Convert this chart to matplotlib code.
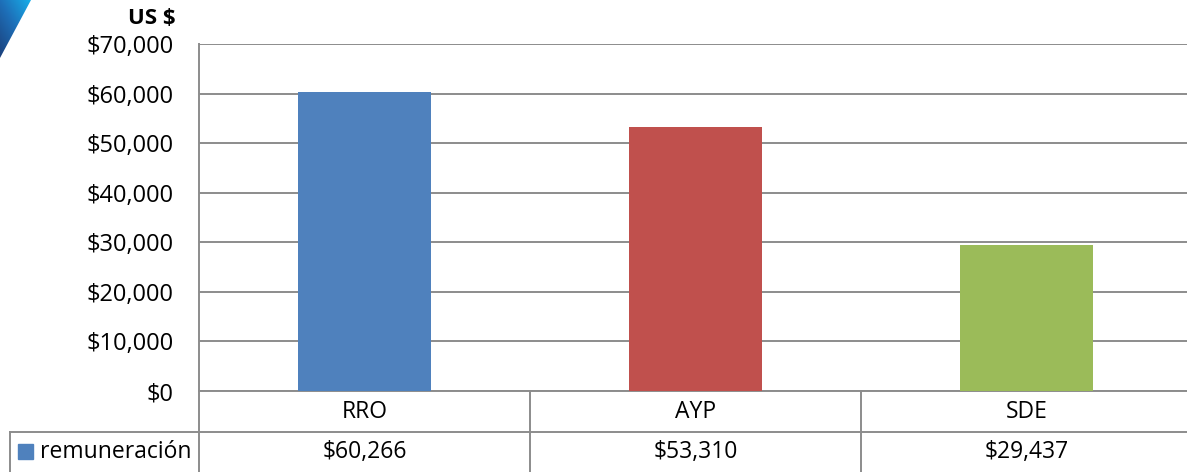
import matplotlib
matplotlib.use("Agg")
import matplotlib.pyplot as plt
import matplotlib.transforms as mtransforms
from matplotlib.patches import Polygon
import numpy as np

# --------------- 数据 ---------------
categories = ["RRO", "AYP", "SDE"]
remuneracion = [60266, 53310, 29437]
table_labels = ["$60,266", "$53,310", "$29,437"]
series_name = "remuneración"
yticks = [0, 10000, 20000, 30000, 40000, 50000, 60000, 70000]
bar_colors = ["#4F81BD", "#C0504D", "#9BBB59"]

W, H = 1187, 472
GRID = "#8C8C8C"
FONT = ["Open Sans", "DejaVu Sans"]
FS = 16.5
plt.rcParams["font.family"] = FONT

fig = plt.figure(figsize=(W / 100, H / 100), dpi=100)


def fx(px):
    return px / W


def fy(py):
    return 1 - py / H


# 主坐标区
left, right, top, bottom = 199, 1192, 44, 391
ax = fig.add_axes([fx(left), fy(bottom), fx(right - left), fy(top) - fy(bottom)])
x = np.arange(len(categories))
ax.bar(x, remuneracion, width=0.4, color=bar_colors, zorder=3)
ax.set_xlim(-0.5, len(categories) - 0.5)
ax.set_ylim(0, 70000)
ax.set_yticks(yticks)
ax.set_yticklabels([f"${v:,.0f}" for v in yticks], fontsize=17)
ax.tick_params(axis="y", length=0, pad=18.5, colors="black")
ax.set_xticks([])
ax.grid(axis="y", color=GRID, linewidth=1.4, zorder=0)
for s in ["top", "right"]:
    ax.spines[s].set_visible(False)
ax.spines["left"].set_color(GRID)
ax.spines["left"].set_linewidth(1.4)
ax.spines["bottom"].set_color(GRID)
ax.spines["bottom"].set_linewidth(1.4)

fig.text(fx(152), fy(19), "US $", fontsize=16, fontweight="bold",
         ha="center", va="center")

# --------------- 数据表 ---------------
trans = mtransforms.blended_transform_factory(ax.transData, fig.transFigure)
row1, row2, row_end = 391, 432, 472
for i in range(1, len(categories)):
    ax.plot([i - 0.5, i - 0.5], [fy(row1), fy(row_end)], transform=trans,
            color=GRID, linewidth=1.4, clip_on=False)
fig.add_artist(plt.Line2D([fx(left), fx(left)], [fy(row1), fy(row_end)],
                          color=GRID, linewidth=1.4))
fig.add_artist(plt.Line2D([fx(10), 1], [fy(row2), fy(row2)],
                          color=GRID, linewidth=1.4))
fig.add_artist(plt.Line2D([fx(10), fx(10)], [fy(row2), fy(row_end)],
                          color=GRID, linewidth=1.4))

for i, (c, v) in enumerate(zip(categories, table_labels)):
    ax.text(i, fy((row1 + row2) / 2), c, transform=trans, ha="center",
            va="center", fontsize=FS)
    ax.text(i, fy((row2 + row_end) / 2), v, transform=trans, ha="center",
            va="center", fontsize=FS)

fig.patches.append(plt.Rectangle((fx(18), fy(459)), fx(15), fy(444) - fy(459),
                                 color=bar_colors[0], transform=fig.transFigure,
                                 figure=fig))
fig.text(fx(40), fy((row2 + row_end) / 2), series_name, fontsize=FS,
         ha="left", va="center")

# --------------- 左上角装饰 ---------------
deco = fig.add_axes([0, fy(60), fx(34), fy(0) - fy(60)])
deco.set_xlim(0, 34)
deco.set_ylim(60, 0)
deco.axis("off")
gx, gy = np.meshgrid(np.linspace(0, 1, 60), np.linspace(0, 1, 60))
grad = gx * 0.6 + (1 - gy) * 0.6
img = deco.imshow(grad, cmap=matplotlib.colors.LinearSegmentedColormap.from_list(
    "d", ["#1B3F7A", "#1E6FB8", "#16B4EE"]), extent=[0, 34, 60, 0], aspect="auto")
poly = Polygon([[0, 0], [31, 0], [0, 58]], closed=True, transform=deco.transData)
img.set_clip_path(poly)

fig.savefig("out.png", dpi=100)
